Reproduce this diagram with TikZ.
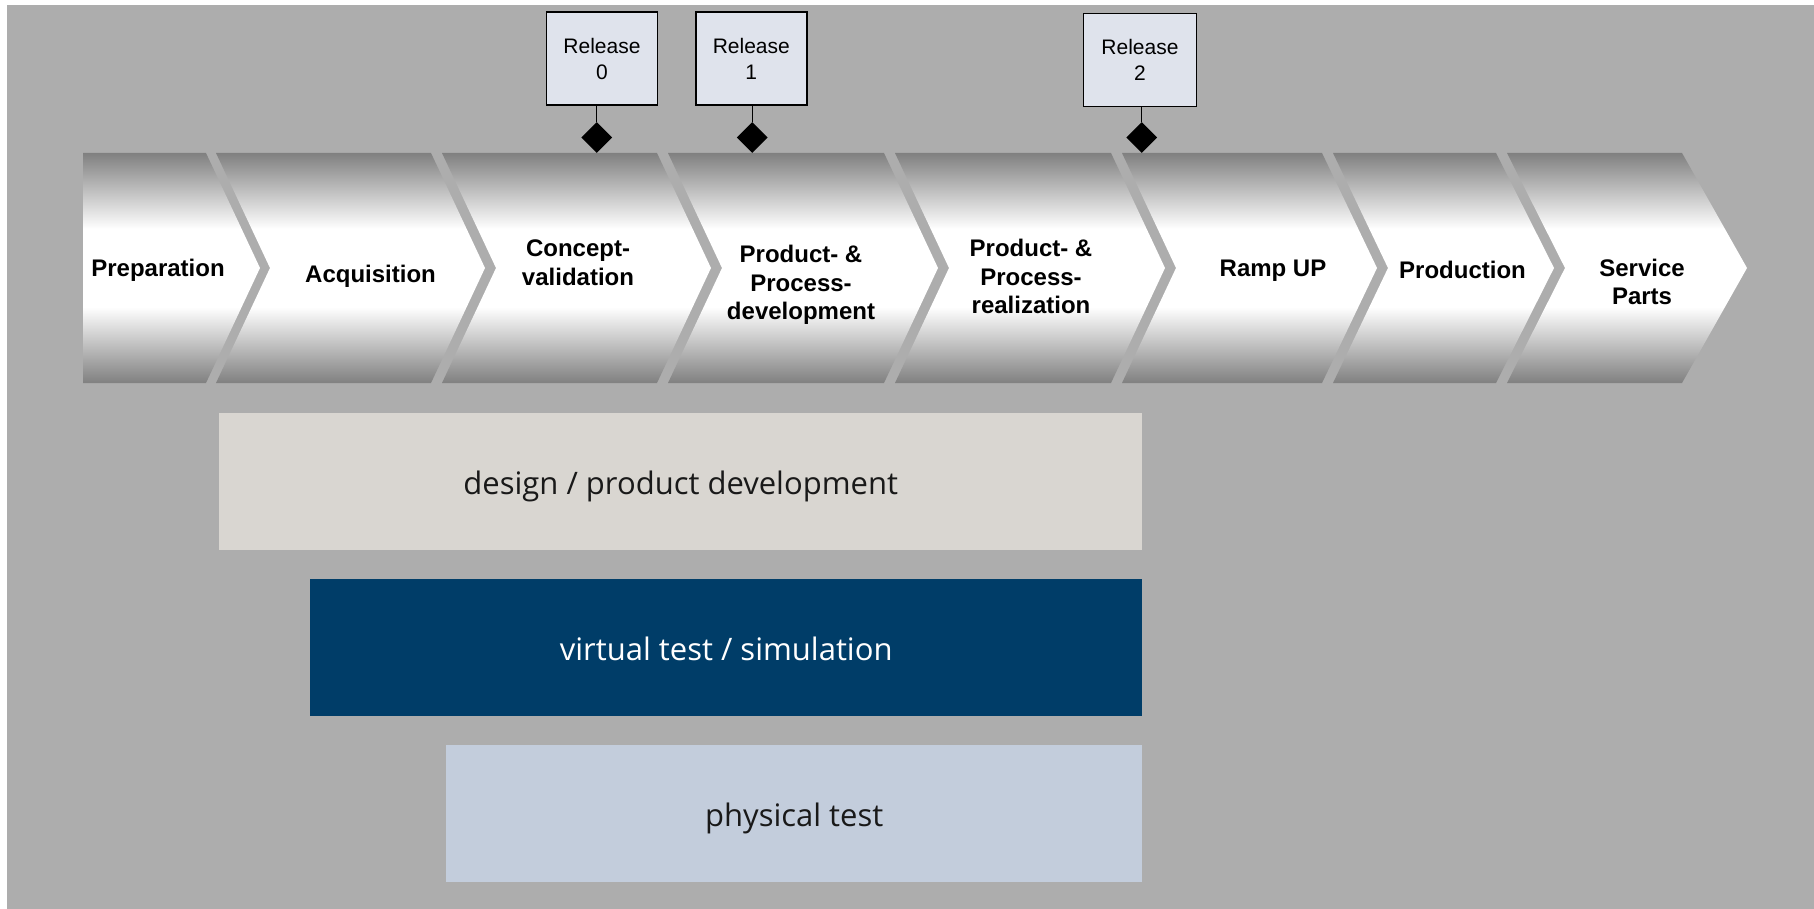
\documentclass[tikz,border=0pt]{standalone}
\usepackage{fontspec}
\setmainfont{Liberation Sans}
\newfontfamily\barfont{Open Sans}
\usetikzlibrary{shapes.geometric}

\definecolor{bggray}{RGB}{173,173,173}
\definecolor{shdark}{RGB}{128,128,128}
\definecolor{designfill}{RGB}{217,214,209}
\definecolor{simfill}{RGB}{0,61,104}
\definecolor{physfill}{RGB}{195,205,220}
\definecolor{relfill}{RGB}{223,227,236}

\pgfdeclareverticalshading{phasegrad}{100bp}{color(0bp)=(shdark); color(25bp)=(shdark); color(41.5bp)=(white); color(58.5bp)=(white); color(75bp)=(shdark); color(100bp)=(shdark)}

\tikzset{
  phase/.style={font=\bfseries\fontsize{24}{28.5}\selectfont, align=center},
  release/.style={draw=black, line width=1.5pt, fill=relfill, minimum width=111pt,
    minimum height=93pt, inner sep=0pt, align=center, font=\fontsize{21}{26}\selectfont},
  gate/.style={diamond, fill=black, minimum width=31pt, minimum height=31pt, inner sep=0pt},
  bar/.style={anchor=north west, minimum height=137pt, inner sep=0pt,
    text height=28.5pt, text depth=3pt, font=\barfont\fontsize{31}{36}\selectfont}
}

\begin{document}
\begin{tikzpicture}[x=1pt,y=-1pt]
                \useasboundingbox (0,0) rectangle (1814,909);
                \fill [bggray] (7,5) rectangle (1814,909);
                % phases
                \shade [shading=phasegrad] (83,153) -- (206,153) -- (260,268) -- (206,383) -- (83,383) -- cycle;
                \shade [shading=phasegrad] (216,153) -- (431,153) -- (485,268) -- (431,383) -- (216,383) -- (270,268) -- cycle;
                \shade [shading=phasegrad] (442,153) -- (657,153) -- (711,268) -- (657,383) -- (442,383) -- (496,268) -- cycle;
                \shade [shading=phasegrad] (668,153) -- (884,153) -- (938,268) -- (884,383) -- (668,383) -- (722,268) -- cycle;
                \shade [shading=phasegrad] (895,153) -- (1111,153) -- (1165,268) -- (1111,383) -- (895,383) -- (949,268) -- cycle;
                \shade [shading=phasegrad] (1122,153) -- (1322,153) -- (1377,268) -- (1322,383) -- (1122,383) -- (1176,268) -- cycle;
                \shade [shading=phasegrad] (1333,153) -- (1496,153) -- (1554,268) -- (1496,383) -- (1333,383) -- (1388,268) -- cycle;
                \shade [shading=phasegrad] (1507,153) -- (1682,153) -- (1747,268) -- (1682,383) -- (1507,383) -- (1565,268) -- cycle;
                \node [phase] (prep) at (158,270) {Preparation};
                \node [phase] (acq) at (370.5,276) {Acquisition};
                \node [phase] (concept) at (578,262.5) {Concept-\\validation};
                \node [phase] (pdev) at (801,285) {Product- \&\\Process-\\development};
                \node [phase] (preal) at (1031,276.5) {Product- \&\\Process-\\realization};
                \node [phase] (ramp) at (1273,271) {Ramp UP};
                \node [phase] (prod) at (1462.5,270) {Production};
                \node [phase] (serv) at (1642,282) {Service\\Parts};
                % releases
                \node [release] (rel0) at (602,58.5) {Release\\0};
                \node [release] (rel1) at (751.3,58.5) {Release\\1};
                \node [release, minimum width=113pt] (rel2) at (1140,60) {Release\\2};
                \node [gate] (gate0) at (596.7,137.5) {};
                \node [gate] (gate1) at (752.3,137.5) {};
                \node [gate] (gate2) at (1141.7,137.5) {};
                \draw [line width=1.5pt] (rel0.south -| gate0) -- (gate0.north);
                \draw [line width=1.5pt] (rel1.south -| gate1) -- (gate1.north);
                \draw [line width=1.5pt] (rel2.south -| gate2) -- (gate2.north);
                % activities
                \node [bar, fill=designfill, text=black!90, minimum width=923pt] (design) at (219,413) {design / product development};
                \node [bar, fill=simfill, text=white, minimum width=832pt] (sim) at (310,579) {virtual test / simulation};
                \node [bar, fill=physfill, text=black!90, minimum width=696pt] (phys) at (446,745) {physical test};
            \end{tikzpicture}
\end{document}
